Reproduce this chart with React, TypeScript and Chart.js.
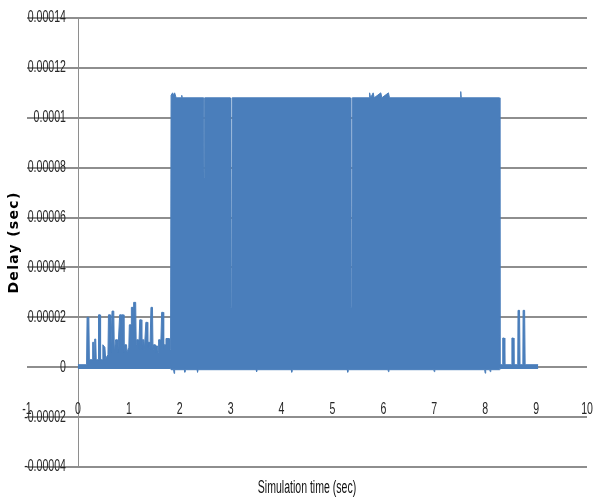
import React, { useEffect, useRef } from "react";
import { Chart, registerables } from "chart.js";

Chart.register(...registerables);

// Upper envelope of the delay trace (time in sec, delay in sec)
const upperTimes = [
  0.0, 0.17, 0.18, 0.215, 0.225, 0.28, 0.29, 0.31, 0.32, 0.33, 0.35, 0.36,
  0.4, 0.405, 0.435, 0.445, 0.48, 0.49, 0.53, 0.545,
  0.59, 0.6, 0.635, 0.645, 0.67, 0.705, 0.715, 0.74, 0.775, 0.785,
  0.82, 0.855, 0.865, 0.87, 0.895, 0.905, 0.92, 0.955, 0.965,
  1.0, 1.01, 1.045, 1.05, 1.085, 1.09, 1.1, 1.135, 1.145,
  1.155, 1.185, 1.195, 1.215, 1.245, 1.255, 1.265, 1.295, 1.305,
  1.335, 1.365, 1.372, 1.378, 1.405, 1.415, 1.435, 1.465, 1.475,
  1.485, 1.515, 1.525, 1.535, 1.565, 1.575, 1.585, 1.615, 1.625,
  1.645, 1.675, 1.685, 1.695, 1.725, 1.73, 1.79, 1.8, 1.82,
  1.83, 1.86, 1.88, 1.9, 1.93, 2.03, 2.04, 2.05, 2.47, 2.477, 2.487, 2.494, 2.99, 3.0, 3.02, 3.03,
  5.35, 5.36, 5.38, 5.39, 5.72, 5.73, 5.75, 5.8, 5.82, 5.95, 5.97, 6.1, 6.12, 7.51, 7.52, 7.53, 8.28,
  8.29, 8.34, 8.345, 8.375, 8.385, 8.52, 8.525, 8.555, 8.565, 8.64, 8.645, 8.675, 8.685,
  8.74, 8.745, 8.775, 8.785, 9.04,
];
const upperDelays = [
  0.000001, 0.000001, 0.00002, 0.00002, 0.000003, 0.000003, 0.00001, 0.00001, 0.000004, 0.0000113,
  0.0000113, 0.000003,
  0.000003, 0.000021, 0.000021, 0.000003, 0.000003, 0.000009, 0.000008, 0.0000035,
  0.000005, 0.000021, 0.000021, 0.000006, 0.0000225, 0.0000225, 0.000006, 0.000011, 0.000011, 0.000006,
  0.000021, 0.000021, 0.000009, 0.000021, 0.000021, 0.000006, 0.000009, 0.000009, 0.000006,
  0.000008, 0.000017, 0.000017, 0.000024, 0.000024, 0.000012, 0.000026, 0.000026, 0.000009,
  0.000011, 0.000011, 0.000007, 0.000019, 0.000019, 0.000007, 0.000011, 0.000011, 0.000007,
  0.000018, 0.000018, 0.000008, 0.00001, 0.00001, 0.000007, 0.000024, 0.000024, 0.000007,
  0.000009, 0.000009, 0.000006, 0.0000085, 0.0000085, 0.000006, 0.000011, 0.000011, 0.000007,
  0.000022, 0.000022, 0.000007, 0.000009, 0.000009, 0.0000115, 0.0000115, 0.000007, 0.000007,
  0.000109, 0.00011, 0.000109, 0.00011, 0.000108, 0.000108, 0.000109, 0.000108, 0.000108, 0.000076,
  0.000076, 0.000108, 0.000108, 0.000024, 0.000024, 0.000108,
  0.000108, 0.000024, 0.000024, 0.000108, 0.000108, 0.00011, 0.000108, 0.00011, 0.000108, 0.00011,
  0.000108, 0.00011, 0.000108, 0.000108, 0.0001105, 0.000108, 0.000108,
  0.000001, 0.000001, 0.0000117, 0.0000117, 0.000001, 0.000001, 0.0000117, 0.0000117, 0.000001,
  0.000001, 0.0000228, 0.0000228, 0.000001,
  0.000001, 0.0000228, 0.0000228, 0.000001, 0.000001,
];

// Lower envelope of the delay trace
const lowerTimes = [
  0.0, 1.82, 1.83, 1.88, 1.89, 1.9, 2.09, 2.1, 2.11, 2.34, 2.35, 2.36, 3.5, 3.51, 3.52, 4.19, 4.2,
  4.21, 5.29, 5.3, 5.31, 6.09, 6.1, 6.11, 6.99, 7.0, 7.01, 7.99, 8.0, 8.01, 8.09, 8.1, 8.11, 8.28,
  8.29, 9.04,
];
const lowerDelays = [
  -0.0000005, -0.0000005, -0.000001, -0.000001, -0.0000025, -0.000001, -0.000001, -0.000002, -0.000001,
  -0.000001, -0.000002, -0.000001, -0.000001, -0.0000018, -0.000001, -0.000001, -0.000002, -0.000001,
  -0.000001, -0.000002, -0.000001, -0.000001, -0.0000018, -0.000001, -0.000001, -0.0000018, -0.000001,
  -0.000001, -0.0000024, -0.000001, -0.000001, -0.0000018, -0.000001, -0.000001, -0.0000005, -0.0000005,
];

const yTickValues = [-0.00004, -0.00002, 0, 0.00002, 0.00004, 0.00006, 0.00008, 0.0001, 0.00012, 0.00014];
const yTickLabels = [
  "-0.00004",
  "-0.00002",
  "0",
  "0.00002",
  "0.00004",
  "0.00006",
  "0.00008",
  "0.0001",
  "0.00012",
  "0.00014",
];
const xTickValues = [-1, 0, 1, 2, 3, 4, 5, 6, 7, 8, 9, 10];
const xTickLabels = ["-1", "0", "1", "2", "3", "4", "5", "6", "7", "8", "9", "10"];
const yMin = -0.00004;
const yMax = 0.00014;
const yStep = 0.00002;
const xMin = -1;
const xMax = 10;

const xTitle = "Simulation time (sec)";
const yTitle = "Delay (sec)";

const SERIES = "#4a7ebb";
const GRID = "#8e8e8e";
const TEXT = "#262626";
const SANS = "'Liberation Sans', Arial, sans-serif";

const axisTextPlugin = {
  id: "axisText",
  beforeDatasetsDraw(chart: any) {
    const { ctx, chartArea, scales } = chart;
    const x0 = Math.round(scales.x.getPixelForValue(0)) + 0.5;
    ctx.save();
    ctx.strokeStyle = GRID;
    ctx.lineWidth = 1;
    ctx.beginPath();
    ctx.moveTo(x0, chartArea.top);
    ctx.lineTo(x0, chartArea.bottom);
    ctx.stroke();
    ctx.restore();
  },
  afterDraw(chart: any) {
    const { ctx, chartArea, scales } = chart;
    const xs = scales.x;
    const ys = scales.y;
    const squash = (text: string, x: number, y: number, align: CanvasTextAlign, sx: number) => {
      ctx.save();
      ctx.translate(x, y);
      ctx.scale(sx, 1);
      ctx.textAlign = align;
      ctx.textBaseline = "middle";
      ctx.fillText(text, 0, 0);
      ctx.restore();
    };
    ctx.save();
    ctx.fillStyle = TEXT;
    ctx.font = `16px ${SANS}`;
    const xAxisPix = xs.getPixelForValue(0);
    yTickValues.forEach((v, i) => {
      squash(yTickLabels[i], xAxisPix - 12, ys.getPixelForValue(v), "right", 0.66);
    });
    const yZeroPix = ys.getPixelForValue(0);
    xTickValues.forEach((v, i) => {
      squash(xTickLabels[i], xs.getPixelForValue(v), yZeroPix + 42, "center", 0.66);
    });
    // x-axis title
    ctx.fillStyle = "#111";
    ctx.font = `18px ${SANS}`;
    squash(xTitle, (chartArea.left + chartArea.right) / 2, 488, "center", 0.585);
    // y-axis title
    ctx.fillStyle = "#000";
    ctx.font = `bold 14px 'DejaVu Sans', sans-serif`;
    ctx.translate(14, (chartArea.top + chartArea.bottom) / 2);
    ctx.rotate(-Math.PI / 2);
    (ctx as any).letterSpacing = "1.3px";
    ctx.textAlign = "center";
    ctx.textBaseline = "middle";
    ctx.fillText(yTitle, 0, 0);
    ctx.restore();
  },
};

export default function App() {
  const ref = useRef<HTMLCanvasElement | null>(null);

  useEffect(() => {
    if (!ref.current) return;
    const upper = upperTimes.map((t, i) => ({ x: t, y: upperDelays[i] }));
    const lower = lowerTimes.map((t, i) => ({ x: t, y: lowerDelays[i] }));
    const chart = new Chart(ref.current, {
      type: "line",
      data: {
        datasets: [
          {
            data: upper,
            borderColor: SERIES,
            backgroundColor: SERIES,
            borderWidth: 1,
            pointRadius: 0,
            tension: 0,
            fill: "+1",
          },
          {
            data: lower,
            borderColor: SERIES,
            backgroundColor: SERIES,
            borderWidth: 1,
            pointRadius: 0,
            tension: 0,
            fill: false,
          },
        ],
      },
      options: {
        animation: false,
        responsive: false,
        maintainAspectRatio: false,
        layout: { padding: { left: 27, right: 10, top: 18, bottom: 30 } },
        plugins: {
          legend: { display: false },
          tooltip: { enabled: false },
          title: { display: false },
        },
        scales: {
          x: {
            type: "linear",
            min: xMin,
            max: xMax,
            display: false,
          },
          y: {
            type: "linear",
            min: yMin,
            max: yMax,
            display: true,
            grid: { color: GRID, lineWidth: 2, drawTicks: false },
            border: { display: false },
            ticks: { stepSize: yStep, display: false },
          },
        },
      },
      plugins: [axisTextPlugin],
    });
    return () => chart.destroy();
  }, []);

  return (
    <div style={{ position: "absolute", left: 0, top: 0, width: 597, height: 497, background: "#fff" }}>
      <canvas ref={ref} width={597} height={497} style={{ display: "block", width: 597, height: 497 }} />
    </div>
  );
}
